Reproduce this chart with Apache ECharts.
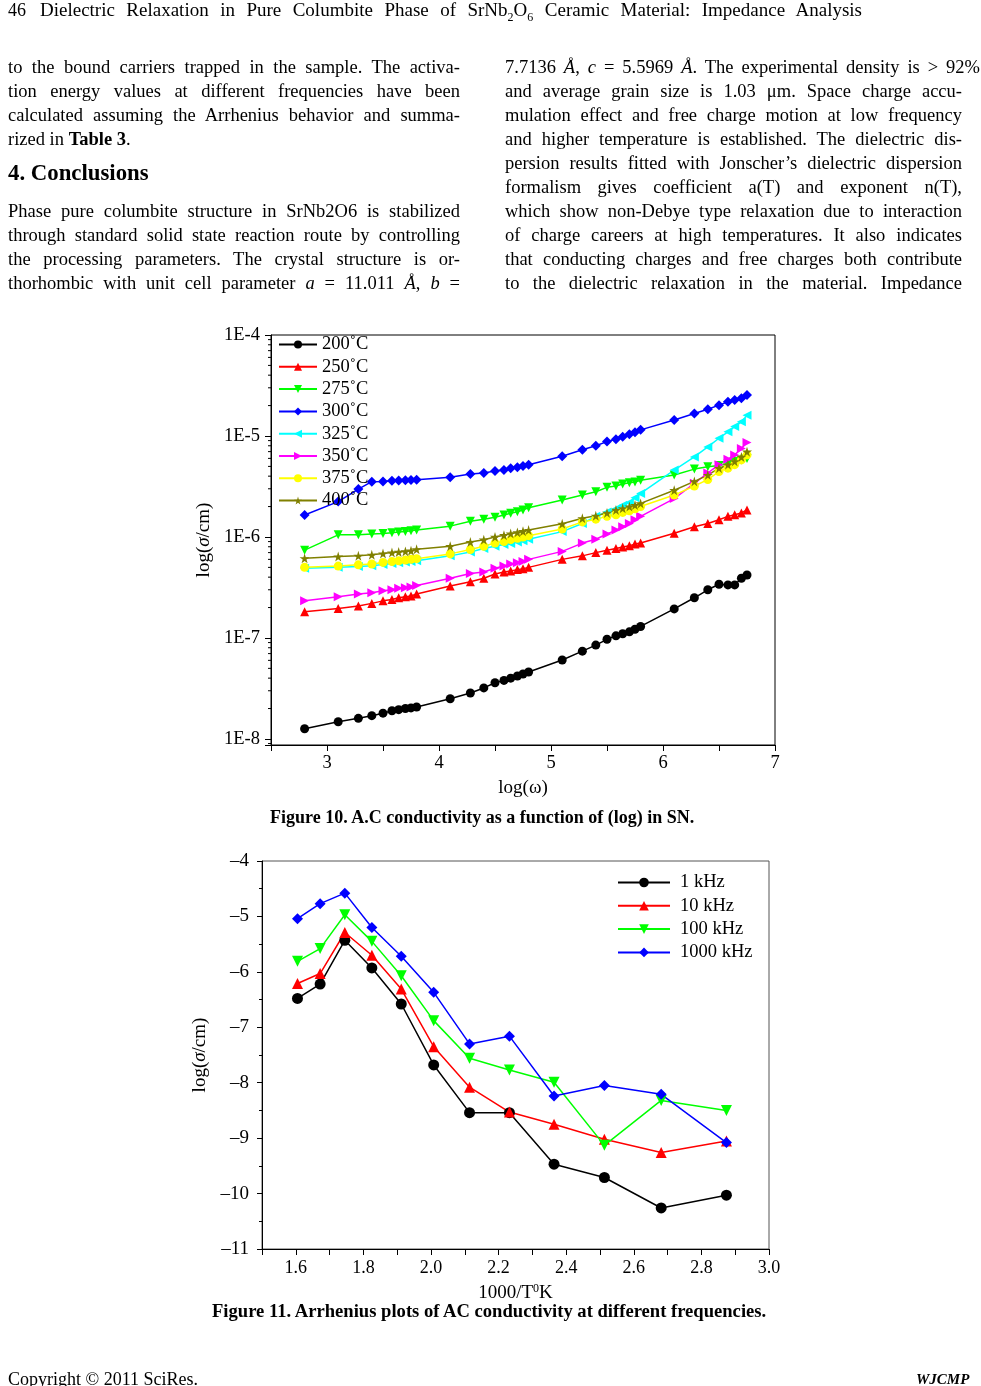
<!DOCTYPE html>
<html><head><meta charset="utf-8">
<script src="https://cdn.jsdelivr.net/npm/echarts/dist/echarts.min.js"></script>
<style>
html,body{margin:0;padding:0;background:#fff;}
#page{position:relative;width:981px;height:1386px;overflow:hidden;font-family:'Liberation Serif','Times New Roman',serif;color:#000;background:#fff;}
#chart{position:absolute;left:0;top:0;width:981px;height:1386px;z-index:1;}
.ln{position:absolute;z-index:2;white-space:nowrap;font-size:18.5px;line-height:24px;text-align:justify;text-align-last:justify;}
.ll{text-align:left;text-align-last:left;}
.cap{position:absolute;z-index:2;white-space:nowrap;font-weight:bold;line-height:20px;}
</style></head><body>
<div id="page">
<div id="chart"></div>

<div class="ln ll" style="left:8px;top:-2px;font-size:18px;">46</div>
<div class="ln" style="left:40px;top:-2px;width:822px;font-size:19px;">Dielectric Relaxation in Pure Columbite Phase of SrNb<sub style="font-size:12px;line-height:0">2</sub>O<sub style="font-size:12px;line-height:0">6</sub> Ceramic Material: Impedance Analysis</div>

<div class="ln" style="left:8px;top:55px;width:452px;">to the bound carriers trapped in the sample. The activa-</div>
<div class="ln" style="left:8px;top:79px;width:452px;">tion energy values at different frequencies have been</div>
<div class="ln" style="left:8px;top:103px;width:452px;">calculated assuming the Arrhenius behavior and summa-</div>
<div class="ln ll" style="left:8px;top:127px;">rized in <b>Table 3</b>.</div>
<div class="ln ll" style="left:8px;top:160px;font-size:22.8px;line-height:26px;font-weight:bold;">4. Conclusions</div>
<div class="ln" style="left:8px;top:199px;width:452px;">Phase pure columbite structure in SrNb2O6 is stabilized</div>
<div class="ln" style="left:8px;top:223px;width:452px;">through standard solid state reaction route by controlling</div>
<div class="ln" style="left:8px;top:247px;width:452px;">the processing parameters. The crystal structure is or-</div>
<div class="ln" style="left:8px;top:271px;width:452px;">thorhombic with unit cell parameter <i>a</i> = 11.011 <i>Å</i>, <i>b</i> =</div>

<div class="ln" style="left:505px;top:55px;width:475px;">7.7136 <i>Å</i>, <i>c</i> = 5.5969 <i>Å</i>. The experimental density is &gt; 92%</div>
<div class="ln" style="left:505px;top:79px;width:457px;">and average grain size is 1.03 μm. Space charge accu-</div>
<div class="ln" style="left:505px;top:103px;width:457px;">mulation effect and free charge motion at low frequency</div>
<div class="ln" style="left:505px;top:127px;width:457px;">and higher temperature is established. The dielectric dis-</div>
<div class="ln" style="left:505px;top:151px;width:457px;">persion results fitted with Jonscher’s dielectric dispersion</div>
<div class="ln" style="left:505px;top:175px;width:457px;">formalism gives coefficient a(T) and exponent n(T),</div>
<div class="ln" style="left:505px;top:199px;width:457px;">which show non-Debye type relaxation due to interaction</div>
<div class="ln" style="left:505px;top:223px;width:457px;">of charge careers at high temperatures. It also indicates</div>
<div class="ln" style="left:505px;top:247px;width:457px;">that conducting charges and free charges both contribute</div>
<div class="ln" style="left:505px;top:271px;width:457px;">to the dielectric relaxation in the material. Impedance</div>

<div class="cap" style="left:270px;top:807px;font-size:18px;">Figure 10. A.C conductivity as a function of (log) in SN.</div>
<div class="cap" style="left:212px;top:1301px;font-size:18.6px;">Figure 11. Arrhenius plots of AC conductivity at different frequencies.</div>

<div class="ln ll" style="left:8px;top:1367px;font-size:18px;">Copyright © 2011 SciRes.</div>
<div class="ln ll" style="left:916px;top:1367px;font-size:15px;font-weight:bold;font-style:italic;">WJCMP</div>
</div>

<script>
// ---------- Figure 10 data: conductivity vs log(omega) ----------
const logW = [2.80,3.10,3.28,3.40,3.50,3.58,3.64,3.70,3.75,3.80,
              4.10,4.28,4.40,4.50,4.58,4.64,4.70,4.75,4.80,
              5.10,5.28,5.40,5.50,5.58,5.64,5.70,5.75,5.80,
              6.10,6.28,6.40,6.50,6.58,6.64,6.70,6.75];
const t200 = [1.26e-8,1.48e-8,1.6e-8,1.7e-8,1.8e-8,1.9e-8,1.95e-8,2.0e-8,2.03e-8,2.07e-8,
              2.5e-8,2.85e-8,3.2e-8,3.6e-8,3.8e-8,4.0e-8,4.2e-8,4.4e-8,4.6e-8,
              6.05e-8,7.4e-8,8.5e-8,9.7e-8,1.05e-7,1.1e-7,1.15e-7,1.22e-7,1.3e-7,
              1.94e-7,2.5e-7,3.0e-7,3.4e-7,3.35e-7,3.35e-7,3.9e-7,4.2e-7];
const t250 = [1.82e-7,1.96e-7,2.07e-7,2.2e-7,2.33e-7,2.4e-7,2.5e-7,2.56e-7,2.6e-7,2.72e-7,
              3.27e-7,3.6e-7,3.9e-7,4.3e-7,4.5e-7,4.6e-7,4.75e-7,4.85e-7,5.0e-7,
              6.0e-7,6.5e-7,7.0e-7,7.4e-7,7.7e-7,7.95e-7,8.2e-7,8.5e-7,8.7e-7,
              1.09e-6,1.26e-6,1.36e-6,1.48e-6,1.6e-6,1.66e-6,1.73e-6,1.85e-6];
const t275 = [7.4e-7,1.05e-6,1.05e-6,1.07e-6,1.08e-6,1.1e-6,1.12e-6,1.13e-6,1.15e-6,1.17e-6,
              1.28e-6,1.43e-6,1.5e-6,1.57e-6,1.65e-6,1.72e-6,1.78e-6,1.85e-6,1.95e-6,
              2.32e-6,2.6e-6,2.8e-6,3.1e-6,3.2e-6,3.35e-6,3.45e-6,3.5e-6,3.65e-6,
              4.1e-6,4.7e-6,4.95e-6,5.1e-6,5.35e-6,5.6e-6,5.8e-6,6.0e-6];
const t300 = [1.65e-6,2.24e-6,2.98e-6,3.53e-6,3.55e-6,3.6e-6,3.62e-6,3.64e-6,3.66e-6,3.68e-6,
              3.9e-6,4.2e-6,4.3e-6,4.5e-6,4.6e-6,4.8e-6,4.9e-6,5.05e-6,5.2e-6,
              6.3e-6,7.3e-6,8.0e-6,8.8e-6,9.3e-6,9.8e-6,1.04e-5,1.09e-5,1.15e-5,
              1.44e-5,1.67e-5,1.84e-5,2.02e-5,2.18e-5,2.27e-5,2.36e-5,2.55e-5];
const t325 = [4.9e-7,5.0e-7,5.1e-7,5.2e-7,5.35e-7,5.45e-7,5.55e-7,5.65e-7,5.7e-7,5.8e-7,
              6.5e-7,7.1e-7,7.7e-7,8.1e-7,8.4e-7,8.6e-7,8.9e-7,9.2e-7,9.5e-7,
              1.13e-6,1.36e-6,1.6e-6,1.77e-6,1.9e-6,2.06e-6,2.2e-6,2.45e-6,2.7e-6,
              4.6e-6,6.2e-6,7.8e-6,9.5e-6,1.1e-5,1.24e-5,1.38e-5,1.6e-5];
const t350 = [2.34e-7,2.56e-7,2.72e-7,2.8e-7,2.93e-7,3.0e-7,3.1e-7,3.15e-7,3.2e-7,3.3e-7,
              3.9e-7,4.35e-7,4.5e-7,4.9e-7,5.15e-7,5.4e-7,5.55e-7,5.7e-7,6.0e-7,
              7.2e-7,8.7e-7,9.5e-7,1.07e-6,1.17e-6,1.26e-6,1.36e-6,1.48e-6,1.6e-6,
              2.4e-6,3.4e-6,4.3e-6,5.2e-6,5.9e-6,6.5e-6,7.5e-6,8.6e-6];
const t375 = [5.0e-7,5.15e-7,5.3e-7,5.4e-7,5.6e-7,5.7e-7,5.8e-7,5.9e-7,6.0e-7,6.1e-7,
              6.8e-7,7.5e-7,8.1e-7,8.7e-7,9.0e-7,9.4e-7,9.7e-7,1.0e-6,1.03e-6,
              1.2e-6,1.41e-6,1.5e-6,1.6e-6,1.66e-6,1.75e-6,1.82e-6,1.9e-6,2.0e-6,
              2.6e-6,3.2e-6,3.7e-6,4.45e-6,4.8e-6,5.2e-6,5.8e-6,6.5e-6];
const t400 = [6.15e-7,6.4e-7,6.5e-7,6.65e-7,6.85e-7,7.0e-7,7.1e-7,7.2e-7,7.3e-7,7.55e-7,
              8.1e-7,8.9e-7,9.4e-7,1.0e-6,1.04e-6,1.08e-6,1.11e-6,1.14e-6,1.17e-6,
              1.35e-6,1.53e-6,1.62e-6,1.73e-6,1.85e-6,1.92e-6,2.0e-6,2.07e-6,2.15e-6,
              2.9e-6,3.55e-6,4.1e-6,4.8e-6,5.2e-6,5.6e-6,6.2e-6,7.0e-6];
const fig10Names = ['200˚C','250˚C','275˚C','300˚C','325˚C','350˚C','375˚C','400˚C'];
const fig10Values = [t200,t250,t275,t300,t325,t350,t375,t400];
const fig10YTicks = ['1E-8','1E-7','1E-6','1E-5','1E-4'];
const fig10Decades = [-9,-8,-7,-6,-5];
const fig10MinorMult = [2,3,4,5,6,7,8,9];

// ---------- Figure 11 data: Arrhenius plot ----------
const invT = [1.605,1.672,1.745,1.825,1.912,2.008,2.114,2.232,2.364,2.513,2.681,2.874];
const f1k    = [-6.48,-6.22,-5.43,-5.93,-6.58,-7.68,-8.54,-8.54,-9.47,-9.71,-10.26,-10.03];
const f10k   = [-6.21,-6.03,-5.29,-5.70,-6.31,-7.35,-8.08,-8.53,-8.75,-9.02,-9.26,-9.05];
const f100k  = [-5.81,-5.58,-4.97,-5.45,-6.07,-6.88,-7.56,-7.77,-7.99,-9.13,-8.32,-8.50];
const f1000k = [-5.04,-4.77,-4.58,-5.20,-5.72,-6.37,-7.30,-7.16,-8.24,-8.05,-8.21,-9.08];
const fig11Names = ['1 kHz','10 kHz','100 kHz','1000 kHz'];
const fig11Values = [f1k,f10k,f100k,f1000k];

// ---------- styling ----------
const FONT = 'Liberation Serif';
const colors10 = ['#000000','#ff0000','#00ff00','#0000ff','#00ffff','#ff00ff','#ffff00','#808000'];
const downTri = 'path://M0,0L10,0L5,9Z';
const leftTri = 'path://M9,0L9,10L0,5Z';
const rightTri = 'path://M0,0L0,10L9,5Z';
const star = 'path://M50,0L61,35L98,35L68,57L79,91L50,70L21,91L32,57L2,35L39,35Z';
const symbols10 = ['circle','triangle',downTri,'diamond',leftTri,rightTri,'circle',star];
const sizes10 = [9,9,9,10,9,9,9,10];
const colors11 = ['#000000','#ff0000','#00ff00','#0000ff'];
const symbols11 = ['circle','triangle',downTri,'diamond'];

const isInt = v => Math.abs(v - Math.round(v)) < 1e-6;
const Y10MIN = -8.06, Y10MAX = -4, X10MIN = 2.5;

const series = [];
fig10Names.forEach((n,i)=>{
  series.push({
    name:n, type:'line', xAxisIndex:0, yAxisIndex:0,
    data: logW.map((x,j)=>[x, Math.log10(fig10Values[i][j])]),
    symbol:symbols10[i], symbolSize:sizes10[i],
    itemStyle:{color:colors10[i]}, lineStyle:{color:colors10[i], width:1.5},
    animation:false
  });
});
// log minor ticks for the Figure 10 y axis, placed through the axis scale
const minorVals = [];
fig10Decades.forEach(d=>fig10MinorMult.forEach(k=>{
  const v = d + Math.log10(k);
  if (v > Y10MIN && v < Y10MAX) minorVals.push([X10MIN, v]);
}));
series.push({
  type:'custom', xAxisIndex:0, yAxisIndex:0, silent:true, clip:false, z:1,
  data:minorVals,
  renderItem:(params, api)=>{
    const p = api.coord([api.value(0), api.value(1)]);
    return {type:'line', shape:{x1:p[0]-3, y1:p[1], x2:p[0], y2:p[1]},
            style:{stroke:'#000', lineWidth:1}};
  },
  animation:false
});
fig11Names.forEach((n,i)=>{
  series.push({
    name:n, type:'line', xAxisIndex:1, yAxisIndex:1,
    data: invT.map((x,j)=>[x, fig11Values[i][j]]),
    symbol:symbols11[i], symbolSize:11,
    itemStyle:{color:colors11[i]}, lineStyle:{color:colors11[i], width:1.5},
    animation:false
  });
});

const nameStyle = {fontFamily:FONT, fontSize:19, color:'#000',
  rich:{i:{fontFamily:FONT, fontSize:19, fontStyle:'italic', color:'#000'},
        s:{fontFamily:FONT, fontSize:12, color:'#000', padding:[0,0,8,0]},
        n:{fontFamily:FONT, fontSize:19, color:'#000'}}};
const axisCommon = {
  axisLine:{show:true, lineStyle:{color:'#000', width:1}},
  axisTick:{show:true, length:6, lineStyle:{color:'#000'}},
  splitLine:{show:false},
  nameLocation:'middle',
  nameTextStyle:nameStyle
};

const chart = echarts.init(document.getElementById('chart'), null, {renderer:'canvas'});
chart.setOption({
  backgroundColor:'#fff',
  animation:false,
  textStyle:{fontFamily:FONT},
  grid:[
    {left:271, top:335, width:504, height:410, show:true, borderColor:'#000', borderWidth:1, backgroundColor:'transparent'},
    {left:262, top:861, width:507, height:388, show:true, borderColor:'#555', borderWidth:1, backgroundColor:'transparent'}
  ],
  xAxis:[
    Object.assign({}, axisCommon, {
      type:'value', gridIndex:0, min:X10MIN, max:7, interval:0.5,
      axisLabel:{fontFamily:FONT, fontSize:18.5, color:'#000', margin:9,
        formatter:v=> isInt(v) ? String(Math.round(v)) : ''},
      name:'log(ω)', nameGap:34
    }),
    Object.assign({}, axisCommon, {
      type:'value', gridIndex:1, min:1.5, max:3.0, interval:0.1,
      axisLabel:{fontFamily:FONT, fontSize:18, color:'#000', margin:10,
        formatter:v=> (Math.round(v*10)%2===0) ? v.toFixed(1) : ''},
      name:'{n|1000/T}{s|0}{n|K}', nameGap:34
    })
  ],
  yAxis:[
    Object.assign({}, axisCommon, {
      type:'value', gridIndex:0, min:Y10MIN, max:Y10MAX, splitNumber:4,
      axisLabel:{fontFamily:FONT, fontSize:18.5, color:'#000', margin:11,
        formatter:v=> isInt(v) ? fig10YTicks[Math.round(v)+8] : ''},
      name:'log({i|σ}/cm)', nameGap:57
    }),
    Object.assign({}, axisCommon, {
      type:'value', gridIndex:1, min:-11, max:-4, interval:1,
      axisTick:{show:true, length:5, lineStyle:{color:'#000'}},
      minorTick:{show:true, splitNumber:2, length:3, lineStyle:{color:'#000'}},
      axisLabel:{fontFamily:FONT, fontSize:19, color:'#000', margin:13,
        formatter:v=> (v<0 ? '–' : '') + Math.abs(Math.round(v))},
      name:'log({i|σ}/cm)', nameGap:48
    })
  ],
  legend:[
    {data:fig10Names, orient:'vertical', left:278, top:335, padding:0,
     itemWidth:38, itemHeight:10, itemGap:3.3,
     textStyle:{fontFamily:FONT, fontSize:18.5, color:'#000', lineHeight:19}},
    {data:fig11Names, orient:'vertical', left:617, top:873, padding:0,
     itemWidth:52, itemHeight:12, itemGap:4.3,
     textStyle:{fontFamily:FONT, fontSize:18.5, color:'#000', lineHeight:19, padding:[0,0,0,5]}}
  ],
  series:series
});
</script>
</body></html>
